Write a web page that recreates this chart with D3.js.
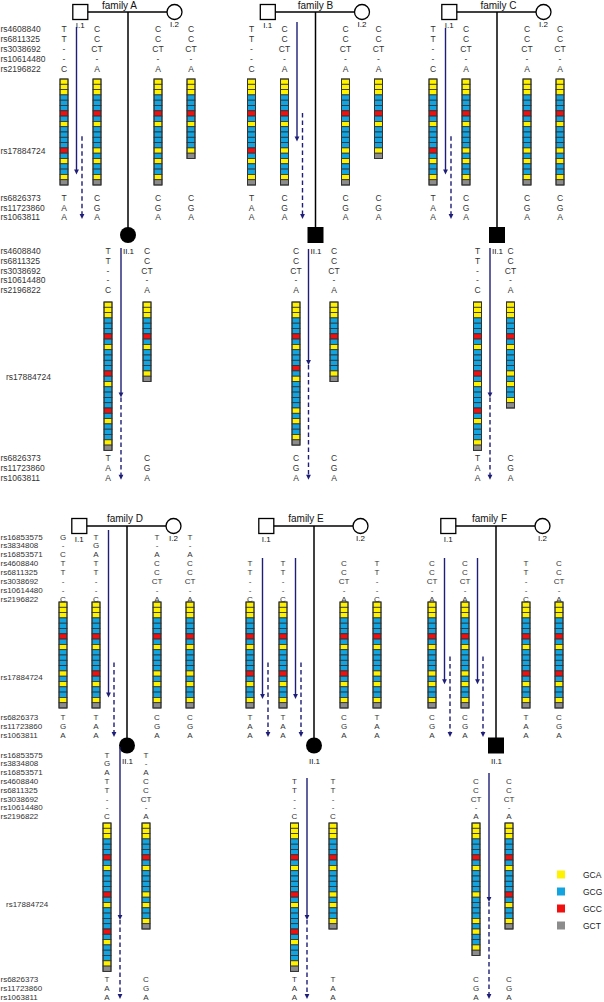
<!DOCTYPE html>
<html><head><meta charset="utf-8">
<script src="https://cdn.jsdelivr.net/npm/d3@7"></script>
<style>
body{margin:0;background:#fff}
svg{display:block}
text{font-family:"Liberation Sans",Arial,sans-serif}
</style>
</head><body>
<svg id="chart" width="604" height="1002"></svg>
<script>
// ================= DATA =================
const families = ["family A","family B","family C","family D","family E","family F"];
const snpsTop = ["rs4608840","rs6811325","rs3038692","rs10614480","rs2196822"];
const snpsBottom = ["rs16853575","rs3834808","rs16853571","rs4608840","rs6811325","rs3038692","rs10614480","rs2196822"];
const snpsTail = ["rs6826373","rs11723860","rs1063811"];
const repeatSnp = "rs17884724";
const codons = ["GCA","GCG","GCC","GCT"];
const codonColors = ["#fff200","#12a4e0","#f01010","#8c8c8c"];
// repeat haplotypes, one letter per codon (last base): A=GCA, G=GCG, C=GCC, T=GCT
const hapTwoRed  = "AAAGGGCGAGGGGCGAGGAT";
const hapOneRed  = "AAAGGGCGAGGGGAGAGGAT";
const hapShort   = "AAAGGGCGAGGGGAT";
const hapLong    = "AAAGGGCGAGGGGCGAGGGGCGAGGGAT";
const hapLongB   = "AAAGGGCGAGGGCGAGGGGGAGAGGAT";
const hapLongF   = "AAAGGGCGAGGGGAGGGGAGAGGAT";

const parentHaps = [
  [hapTwoRed, hapOneRed, hapOneRed, hapShort],
  [hapTwoRed, hapOneRed, hapOneRed, hapShort],
  [hapTwoRed, hapOneRed, hapOneRed, hapOneRed],
  [hapOneRed, hapTwoRed, hapOneRed, hapOneRed],
  [hapTwoRed, hapTwoRed, hapTwoRed, hapOneRed],
  [hapOneRed, hapOneRed, hapTwoRed, hapTwoRed]
];
const childHaps = [
  [hapLong, hapShort],
  [hapLongB, hapShort],
  [hapLong, hapOneRed],
  [hapLong, hapOneRed],
  [hapLong, hapOneRed],
  [hapLongF, hapTwoRed]
];
const aT5 = ["T","T","-","-","C"];
const aC5 = ["C","C","CT","-","A"];
const eT8 = ["","","","T","T","-","-","C"];
const eC8 = ["","","","C","C","CT","-","A"];
const parentAlleles = [
  [aT5, aC5, aC5, aC5],
  [aT5, aC5, aC5, aC5],
  [aT5, aC5, aC5, aC5],
  [["G","-","C","T","T","-","-","C"], ["T","G","A","T","T","-","-","C"], ["T","-","A","C","C","CT","-","A"], ["T","-","A","C","C","CT","-","A"]],
  [eT8, eT8, eC8, eT8],
  [eC8, eC8, eT8, eC8]
];
const parentTail = [
  [["T","A","A"],["C","G","A"],["C","G","A"],["C","G","A"]],
  [["T","A","A"],["C","G","A"],["C","G","A"],["C","G","A"]],
  [["T","A","A"],["C","G","A"],["C","G","A"],["C","G","A"]],
  [["T","G","A"],["T","A","A"],["C","G","A"],["C","G","A"]],
  [["T","A","A"],["T","A","A"],["C","G","A"],["T","A","A"]],
  [["C","G","A"],["C","G","A"],["T","A","A"],["C","G","A"]]
];
const childAlleles = [
  [aT5, aC5],
  [aC5, aC5],
  [aT5, aC5],
  [["T","G","A","T","T","-","-","C"], ["T","-","A","C","C","CT","-","A"]],
  [eT8, eT8],
  [eC8, eC8]
];
const childTail = [
  [["T","A","A"],["C","G","A"]],
  [["C","G","A"],["C","G","A"]],
  [["T","A","A"],["C","G","A"]],
  [["T","A","A"],["C","G","A"]],
  [["T","A","A"],["T","A","A"]],
  [["C","G","A"],["C","G","A"]]
];
const childSex = ["F","M","M","F","F","M"];
// arrows: haplotype index, solid arrow end (codon index), dashed start (codon index)
const parentArrows = [
  [{hap:0, end:18, dash:10.8}],
  [{hap:1, end:11.8, dash:6.4}],
  [{hap:0, end:18, dash:10.8}],
  [{hap:1, end:18, dash:11.4}],
  [{hap:0, end:18.3, dash:11.4},{hap:1, end:18.3, dash:11.4}],
  [{hap:0, end:15.5, dash:10.3},{hap:1, end:15.5, dash:10.3}]
];
const childArrowEnd = [18, 11.9, 18, 18.3, 18.3, 14.9];

// ================= LAYOUT =================
const panels = [
  {fams:[0,1,2], origin:[64,251.5,433], marriageY:12, childY:235, titleY:8.5,
   pRows:[29.3,69.3], pTail:[198,217], pBarTop:79, pRepeatY:151,
   cRows:[250.7,290.3], cTail:[457.7,477.7], cBarTop:302, cRepeatY:377, cLabelY:254,
   snps:snpsTop, fs:8.5},
  {fams:[3,4,5], origin:[63,250,432], marriageY:526, childY:745.5, titleY:522,
   pRows:[537,599], pTail:[717,735], pBarTop:602, pRepeatY:677,
   cRows:[755,816.7], cTail:[979,997], cBarTop:823, cRepeatY:904, cLabelY:763.5,
   snps:snpsBottom, fs:8}
];
const colOffsets = [0,33,94,127];
const childOffsets = [[44,83],[44.5,82.5],[44.5,77.5],[44,83],[44.5,83],[44,77]];
const titleOffsets = [55.5,64,65.5,62,56,57.5];
const pArrowStart = [27,22,28,530,558,558];
const cArrowStart = [248,249,248,747,778,773];
const cellH = 5.3, barW = 8;
const navy = "#1e1e78", textCol = "#333";

const svg = d3.select("#chart");
const color = d3.scaleOrdinal(codons, codonColors);
const codeMap = {A:"GCA",G:"GCG",C:"GCC",T:"GCT"};

function drawBar(g, x, top, hap){
  const cells = hap.split("").map(c => codeMap[c]);
  const y = d3.scaleLinear([0, 1], [top, top + cellH]);
  g.selectAll(null).data(cells).join("rect")
    .attr("x", x - barW/2).attr("y", (d,i) => y(i))
    .attr("width", barW).attr("height", cellH)
    .attr("fill", d => color(d)).attr("stroke", "#2e2e2e").attr("stroke-width", 0.8);
  g.append("rect").attr("x", x - barW/2).attr("y", top)
    .attr("width", barW).attr("height", y(cells.length) - top)
    .attr("fill", "none").attr("stroke", "#333").attr("stroke-width", 1);
}
function drawAlleles(g, x, rowScale, arr, fs){
  g.selectAll(null).data(arr.map((a,i)=>({a,i})).filter(d=>d.a!=="")).join("text")
    .attr("x", x).attr("y", d => rowScale(d.i)).attr("text-anchor","middle")
    .attr("dominant-baseline","central").attr("font-size", fs).attr("fill", textCol)
    .text(d => d.a);
}
function arrow(g, x, y0, y1, dashed){
  g.append("line").attr("x1",x).attr("x2",x).attr("y1",y0).attr("y2",y1-3)
    .attr("stroke", navy).attr("stroke-width", 1.4)
    .attr("stroke-dasharray", dashed ? "4.5,3" : null);
  g.append("path").attr("d", `M${x-2.4},${y1-5}L${x+2.4},${y1-5}L${x},${y1}Z`).attr("fill", navy);
}

panels.forEach(p => {
  const g = svg.append("g");
  const fs = p.fs;
  const pRow = d3.scaleLinear([0, p.snps.length-1], p.pRows);
  const pTailRow = d3.scaleLinear([0, snpsTail.length-1], p.pTail);
  const cRow = d3.scaleLinear([0, p.snps.length-1], p.cRows);
  const cTailRow = d3.scaleLinear([0, snpsTail.length-1], p.cTail);
  const pCell = d3.scaleLinear([0,1],[p.pBarTop, p.pBarTop+cellH]);
  const cCell = d3.scaleLinear([0,1],[p.cBarTop, p.cBarTop+cellH]);

  // left labels
  const lab = (arr, sc, x) => g.selectAll(null).data(arr).join("text")
    .attr("x", x).attr("y", (d,i)=>sc(i)).attr("dominant-baseline","central")
    .attr("font-size", fs).attr("fill", textCol).text(d=>d);
  lab(p.snps, pRow, 0.5); lab(snpsTail, pTailRow, 0.5);
  lab(p.snps, cRow, 0.5); lab(snpsTail, cTailRow, 0.5);
  g.append("text").attr("x",0.5).attr("y",p.pRepeatY).attr("dominant-baseline","central")
    .attr("font-size",fs).attr("fill",textCol).text(repeatSnp);
  g.append("text").attr("x",6).attr("y",p.cRepeatY).attr("dominant-baseline","central")
    .attr("font-size",fs).attr("fill",textCol).text(repeatSnp);

  p.fams.forEach((f, k) => {
    const o = p.origin[k];
    const colX = d3.scaleOrdinal([0,1,2,3], colOffsets.map(v => o + v));
    const cX = d3.scaleOrdinal([0,1], childOffsets[f].map(v => o + v));
    const sqX = o + 16.3, ciX = o + 110.5, dX = o + 64, mY = p.marriageY;

    // pedigree
    g.append("line").attr("x1",sqX).attr("x2",ciX).attr("y1",mY).attr("y2",mY)
      .attr("stroke","#000").attr("stroke-width",1.4);
    g.append("line").attr("x1",dX).attr("x2",dX).attr("y1",mY).attr("y2",p.childY-7)
      .attr("stroke","#000").attr("stroke-width",1.5);
    g.append("rect").attr("x",sqX-7.5).attr("y",mY-7.5).attr("width",15).attr("height",15)
      .attr("fill","#fff").attr("stroke","#000").attr("stroke-width",1.3);
    g.append("circle").attr("cx",ciX).attr("cy",mY).attr("r",7.5)
      .attr("fill","#fff").attr("stroke","#000").attr("stroke-width",1.3);
    if (childSex[f] === "F") {
      g.append("circle").attr("cx",dX).attr("cy",p.childY).attr("r",8).attr("fill","#000");
    } else {
      g.append("rect").attr("x",dX-8).attr("y",p.childY-8).attr("width",16).attr("height",16).attr("fill","#000");
    }
    g.append("text").attr("x", o + titleOffsets[f]).attr("y", p.titleY).attr("text-anchor","middle")
      .attr("font-size",10).attr("fill","#111").text(families[f]);
    g.append("text").attr("x",sqX).attr("y",mY+16).attr("text-anchor","middle")
      .attr("font-size",8).attr("fill","#111").text("I.1");
    g.append("text").attr("x",ciX).attr("y",mY+15).attr("text-anchor","middle")
      .attr("font-size",8).attr("fill","#111").text("I.2");
    g.append("text").attr("x",dX+0.5).attr("y",p.cLabelY).attr("text-anchor","middle")
      .attr("font-size",8).attr("fill","#111").text("II.1");

    // parents
    parentHaps[f].forEach((h,i) => {
      drawBar(g, colX(i), p.pBarTop, h);
      const al = parentAlleles[f][i];
      drawAlleles(g, colX(i), al.length === p.snps.length ? pRow : pRow, al, fs);
      drawAlleles(g, colX(i), pTailRow, parentTail[f][i], fs);
    });
    // child
    childHaps[f].forEach((h,i) => {
      drawBar(g, cX(i), p.cBarTop, h);
      drawAlleles(g, cX(i), cRow, childAlleles[f][i], fs);
      drawAlleles(g, cX(i), cTailRow, childTail[f][i], fs);
    });

    // arrows in parents
    parentArrows[f].forEach(a => {
      const x = colX(a.hap) + 12.5;
      arrow(g, x, pArrowStart[f], pCell(a.end), false);
      arrow(g, x + 5.5, pCell(a.dash), pTailRow(2) + 2, true);
    });
    // arrow in child
    const ax = dX - 7;
    arrow(g, ax, cArrowStart[f], cCell(childArrowEnd[f]), false);
    arrow(g, ax, cCell(childArrowEnd[f]), cTailRow(2) + 2, true);
  });
});

// legend
const ly = d3.scaleBand(codons, [866, 934]).paddingInner(0);
const leg = svg.append("g");
leg.selectAll(null).data(codons).join("rect")
  .attr("x",557).attr("y",d=>ly(d)+ly.bandwidth()/2-4).attr("width",8).attr("height",8)
  .attr("fill",d=>color(d));
leg.selectAll(null).data(codons).join("text")
  .attr("x",583).attr("y",d=>ly(d)+ly.bandwidth()/2).attr("dominant-baseline","central")
  .attr("font-size",8.5).attr("fill","#222").text(d=>d);
</script>
</body></html>
